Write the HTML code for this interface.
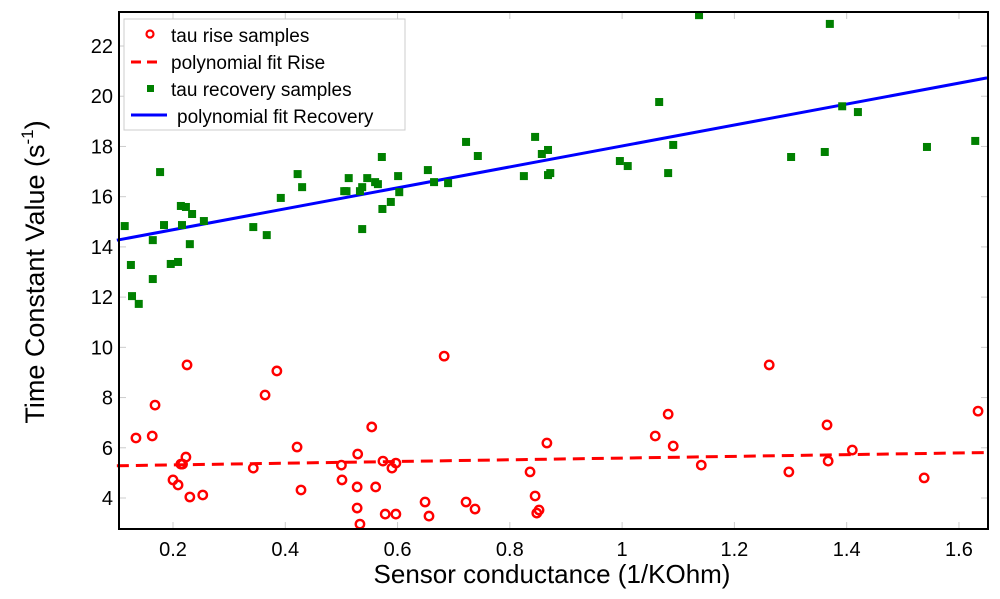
<!DOCTYPE html>
<html><head><meta charset="utf-8"><style>
html,body{margin:0;padding:0;background:#fff;}
svg{display:block;font-family:"Liberation Sans",sans-serif;}
</style></head><body>
<svg id="chart" width="1000" height="599" viewBox="0 0 1000 599">
<g id="grid"></g>
<g id="fits"></g>
<g id="pts"></g>
<rect x="119" y="12" width="869" height="517" fill="none" stroke="#000" stroke-width="2"/>
<g id="xt"></g>
<g id="yt"></g>
<text x="552" y="583" font-size="26" text-anchor="middle">Sensor conductance (1/KOhm)</text>
<text transform="translate(44,272) rotate(-90)" font-size="27" text-anchor="middle">Time Constant Value (s<tspan font-size="17" dy="-11">-1</tspan><tspan dy="11">)</tspan></text>
<g>
<rect x="124" y="19" width="281" height="111" fill="#fff" stroke="#ccc" stroke-width="1"/>
<circle cx="150" cy="34" r="3.5" fill="none" stroke="#f00" stroke-width="2.2"/>
<text x="171" y="42" font-size="19">tau rise samples</text>
<line x1="131" y1="62" x2="163" y2="62" stroke="#f00" stroke-width="3" stroke-dasharray="10,6"/>
<text x="171" y="69" font-size="19">polynomial fit Rise</text>
<rect x="147" y="85" width="7" height="7" fill="#008000"/>
<text x="171" y="96" font-size="19">tau recovery samples</text>
<line x1="131" y1="115" x2="167" y2="115" stroke="#00f" stroke-width="3"/>
<text x="177" y="123" font-size="19">polynomial fit Recovery</text>
</g>
</svg>
<script>
const xTicks=[0.2,0.4,0.6,0.8,1,1.2,1.4,1.6];
const xTickLabels=["0.2","0.4","0.6","0.8","1","1.2","1.4","1.6"];
const yTicks=[4,6,8,10,12,14,16,18,20,22];
const yTickLabels=["4","6","8","10","12","14","16","18","20","22"];
const riseX=[0.134,0.163,0.168,0.225,0.2,0.209,0.214,0.217,0.223,0.23,0.253,0.343,0.364,0.385,0.421,0.428,0.5,0.501,0.529,0.528,0.528,0.533,0.554,0.561,0.574,0.578,0.59,0.597,0.597,0.649,0.656,0.683,0.722,0.738,0.836,0.845,0.848,0.852,0.866,1.059,1.082,1.091,1.141,1.262,1.297,1.365,1.367,1.41,1.538,1.634];
const riseY=[6.39,6.47,7.7,9.3,4.72,4.52,5.35,5.35,5.63,4.04,4.12,5.19,8.1,9.06,6.03,4.32,5.31,4.72,5.75,4.44,3.6,2.96,6.83,4.44,5.47,3.36,5.19,5.39,3.36,3.84,3.28,9.65,3.84,3.56,5.04,4.08,3.4,3.52,6.19,6.47,7.34,6.07,5.31,9.3,5.04,6.91,5.47,5.91,4.8,7.46];
const recX=[0.114,0.125,0.127,0.139,0.164,0.164,0.177,0.184,0.196,0.209,0.214,0.223,0.216,0.23,0.234,0.255,0.343,0.367,0.392,0.422,0.43,0.505,0.509,0.513,0.537,0.533,0.537,0.546,0.572,0.56,0.565,0.573,0.588,0.601,0.603,0.654,0.665,0.69,0.722,0.743,0.825,0.845,0.857,0.868,0.868,0.872,0.996,1.01,1.066,1.082,1.091,1.137,1.301,1.361,1.37,1.392,1.42,1.543,1.629];
const recY=[14.83,13.28,12.04,11.73,14.27,12.72,16.98,14.87,13.32,13.4,15.63,15.59,14.87,14.11,15.31,15.03,14.79,14.47,15.95,16.9,16.38,16.22,16.22,16.74,14.71,16.22,16.38,16.74,17.58,16.58,16.5,15.51,15.79,16.82,16.18,17.06,16.58,16.54,18.18,17.62,16.82,18.38,17.7,17.86,16.86,16.94,17.42,17.22,19.77,16.94,18.06,23.23,17.58,17.78,22.88,19.6,19.37,17.98,18.22];
const fitRange=[0.1,1.65];
const riseFitCoef=[5.25,0.34];
const recFitCoef=[13.85,4.17];
const NS="http://www.w3.org/2000/svg";
function sx(v){return 173+(v-0.2)*561.4;}
function sy(v){return 498-(v-4)*25.11;}
function mk(t,a,p){const e=document.createElementNS(NS,t);for(const k in a)e.setAttribute(k,a[k]);p.appendChild(e);return e;}
const grid=document.getElementById('grid'),xt=document.getElementById('xt'),yt=document.getElementById('yt');
xTicks.forEach((v,i)=>{const x=sx(v);
 let l=mk('line',{x1:x,y1:529,x2:x,y2:522,stroke:'#ccc','stroke-width':1},grid);
 
 
 l=mk('line',{x1:x,y1:12,x2:x,y2:19,stroke:'#ccc','stroke-width':1},grid);
 
 
 const t=mk('text',{x:x,y:556,'font-size':20,'text-anchor':'middle'},xt);t.textContent=xTickLabels[i];
 
 });
yTicks.forEach((v,i)=>{const y=sy(v);
 let l=mk('line',{x1:119,y1:y,x2:126,y2:y,stroke:'#ccc','stroke-width':1},grid);
 
 
 l=mk('line',{x1:988,y1:y,x2:981,y2:y,stroke:'#ccc','stroke-width':1},grid);
 
 
 const t=mk('text',{x:113,y:y+7,'font-size':20,'text-anchor':'end'},yt);t.textContent=yTickLabels[i];
 
 });
const fits=document.getElementById('fits');
let l1=mk('line',{x1:sx(fitRange[0]),y1:sy(riseFitCoef[0]+riseFitCoef[1]*fitRange[0]),x2:sx(fitRange[1]),y2:sy(riseFitCoef[0]+riseFitCoef[1]*fitRange[1]),stroke:'#f00','stroke-width':3,'stroke-dasharray':'12,7'},fits);


let l2=mk('line',{x1:sx(fitRange[0]),y1:sy(recFitCoef[0]+recFitCoef[1]*fitRange[0]),x2:sx(fitRange[1]),y2:sy(recFitCoef[0]+recFitCoef[1]*fitRange[1]),stroke:'#00f','stroke-width':3},fits);


const pts=document.getElementById('pts');
recX.forEach((v,i)=>{const r=mk('rect',{x:sx(v)-4,y:sy(recY[i])-4,width:8,height:8,fill:'#008000'},pts);
 
 });
riseX.forEach((v,i)=>{const c=mk('circle',{cx:sx(v),cy:sy(riseY[i]),r:4.2,fill:'none',stroke:'#f00','stroke-width':2.4},pts);
 
 });
</script>
</body></html>
